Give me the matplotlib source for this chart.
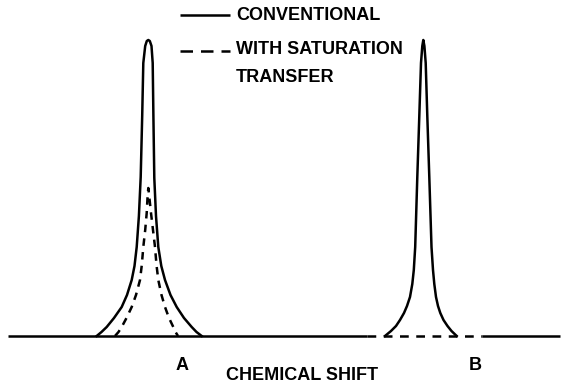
import matplotlib
matplotlib.use("Agg")
import matplotlib.pyplot as plt

# Peak A, conventional spectrum (shift, intensity)
a_conv_shift = [96.7, 101.5, 106.7, 114, 121.7, 127, 131.7, 134.5, 136.7, 138.9, 140.7,
                142.2, 143.3, 145.2, 146.8, 148.3, 149.8, 151.5, 152.7, 153.4, 154.3,
                156, 158.3, 161.3, 165, 170.5, 176.7, 184, 191.7, 196.5, 201.7]
a_conv_int = [0, 4, 9, 18, 29, 41, 56, 70, 89, 120, 159,
              220, 273, 290, 295, 296, 295, 290, 273, 220, 158,
              120, 89, 70, 56, 41, 29, 18, 9, 4, 0]

# Peak A with saturation transfer
a_sat_shift = [115, 118.5, 121.7, 126.5, 131.7, 136, 140, 141.8, 143.3, 145.2, 146.7, 147.6,
               148.3, 149.2, 151, 153, 155, 156.5, 158.3, 161.5, 165, 169, 173.3, 175.5, 178]
a_sat_int = [0, 4, 9, 18, 29, 41, 56, 71, 89, 106, 123, 140,
             148, 140, 123, 106, 89, 71, 56, 41, 29, 18, 9, 4, 0]

# Peak B, conventional spectrum (fully saturated -> flat with saturation transfer)
b_conv_shift = [385, 391, 396, 400, 404, 407, 410, 412.3, 413.8, 415.2, 417.3, 419.3,
                421, 422.3, 423.3, 424.4, 425.7, 427.3, 429.3, 431.5, 433, 434.3, 436,
                438, 440.3, 443.5, 447.5, 451.5, 456.7]
b_conv_int = [0, 5, 10, 16, 23, 30, 39, 52, 66, 89, 159, 220,
              273, 290, 296, 290, 273, 220, 159, 89, 66, 52, 39,
              30, 23, 16, 10, 5, 0]

baseline_left = [8, 367]
baseline_right = [482, 560]
b_sat_shift = [367, 482]
b_sat_int = [0, 0]

font = dict(family="Liberation Sans", fontweight="bold", fontsize=13)

fig = plt.figure(figsize=(5.62, 3.87), dpi=100)
ax = fig.add_axes([0, 0, 1, 1])

lw = 1.8
ax.plot(baseline_left, [0, 0], color="black", lw=lw, solid_capstyle="butt")
ax.plot(baseline_right, [0, 0], color="black", lw=lw, solid_capstyle="butt")
ax.plot(b_sat_shift, b_sat_int, color="black", lw=lw, dashes=(3.5, 3))
ax.plot(a_conv_shift, a_conv_int, color="black", lw=lw, solid_joinstyle="round")
ax.plot(b_conv_shift, b_conv_int, color="black", lw=lw, solid_joinstyle="round")
ax.plot(a_sat_shift, a_sat_int, color="black", lw=lw, dashes=(3, 2.5))

# legend keys
ax.plot([180, 230], [321, 321], color="black", lw=lw, solid_capstyle="butt")
ax.plot([180, 230], [285, 285], color="black", lw=lw, dashes=(5, 3.2))
ax.text(236, 320, "CONVENTIONAL", va="center", ha="left", **font)
ax.text(236, 286, "WITH SATURATION", va="center", ha="left", **font)
ax.text(236, 258, "TRANSFER", va="center", ha="left", **font)

ax.text(182, -30, "A", va="center", ha="center", **font)
ax.text(475, -30, "B", va="center", ha="center", **font)
ax.text(302, -40, "CHEMICAL SHIFT", va="center", ha="center", **font)

ax.set_xlim(0, 562)
ax.set_ylim(-51, 336)
ax.axis("off")
fig.savefig("out.png", dpi=100)
